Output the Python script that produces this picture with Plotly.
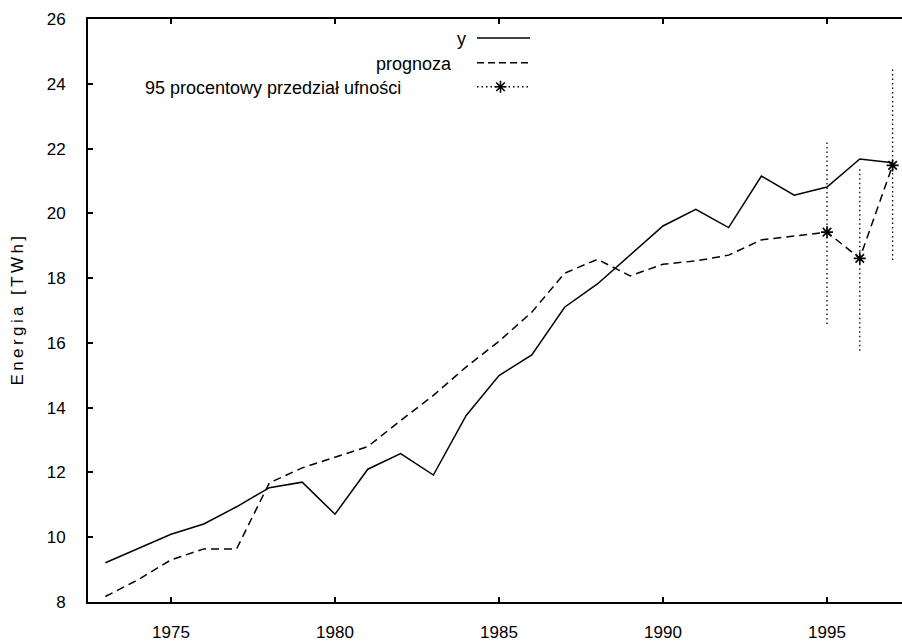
import plotly.graph_objects as go

# ---- data ----
years = list(range(1973, 1998))
y_actual = [9.21, 9.65, 10.09, 10.41, 10.94, 11.53, 11.70, 10.71, 12.10, 12.58,
            11.92, 13.76, 14.99, 15.63, 17.10, 17.82, 18.73, 19.61, 20.12, 19.56,
            21.15, 20.56, 20.81, 21.68, 21.56]
y_forecast = [8.17, 8.69, 9.30, 9.64, 9.64, 11.68, 12.14, 12.48, 12.80, 13.60,
              14.38, 15.26, 16.05, 16.95, 18.15, 18.58, 18.07, 18.43, 18.53, 18.71,
              19.18, 19.30, 19.42, 18.61, 21.48]
ci_years = [1995, 1996, 1997]
ci_center = [19.42, 18.61, 21.48]
ci_low = [16.58, 15.76, 18.56]
ci_high = [22.26, 21.44, 24.45]

x_ticks = [1975, 1980, 1985, 1990, 1995]
y_ticks = [8, 10, 12, 14, 16, 18, 20, 22, 24, 26]

legend_labels = ["y", "prognoza", "95 procentowy przedział ufności"]
y_label = "E\u2009n\u2009e\u2009r\u2009g\u2009i\u2009a\u2009 \u2009[\u2009T\u2009W\u2009h\u2009]"

FONT = "Liberation Sans, Arial, sans-serif"
FS = 17
FS_LEG = 18
W, H = 902, 642
L, R, T, B = 88, 0, 19, 38

fig = go.Figure()

fig.add_trace(go.Scatter(x=years, y=y_actual, mode="lines",
                         line=dict(color="black", width=1.5), showlegend=False))
fig.add_trace(go.Scatter(x=years, y=y_forecast, mode="lines",
                         line=dict(color="black", width=1.5, dash="8px,5px"),
                         showlegend=False))

# confidence interval bars
bx, by = [], []
for xv, lo, hi in zip(ci_years, ci_low, ci_high):
    bx += [xv, xv, None]
    by += [lo, hi, None]
fig.add_trace(go.Scatter(x=bx, y=by, mode="lines",
                         line=dict(color="black", width=1.3, dash="1.5px,3px"),
                         showlegend=False))
STAR = dict(symbol="asterisk-open", size=10, color="black",
            line=dict(color="black", width=1.6))
fig.add_trace(go.Scatter(x=ci_years, y=ci_center, mode="markers",
                         marker=STAR, showlegend=False, cliponaxis=False))

# ---- manual gnuplot-style legend on a pixel-unit overlay axis ----
leg_rows_y = [38, 63, 87]
leg_text_x = [455, 374, 143]
leg_line_x0, leg_line_x1 = 477, 530
leg_dashes = ["solid", "7px,4px", "1.5px,3px"]
for lab, ry, tx, dsh in zip(legend_labels, leg_rows_y, leg_text_x, leg_dashes):
    fig.add_trace(go.Scatter(x=[leg_line_x0, leg_line_x1], y=[ry, ry], mode="lines",
                             xaxis="x2", yaxis="y2",
                             line=dict(color="black",
                                       width=1.3 if dsh == "1.5px,3px" else 1.5,
                                       dash=dsh),
                             showlegend=False, hoverinfo="skip"))
    fig.add_annotation(x=tx, y=ry + 1, xref="x2", yref="y2", text=lab, showarrow=False,
                       xanchor="left", yanchor="middle",
                       font=dict(family=FONT, size=FS_LEG, color="black"))
fig.add_trace(go.Scatter(x=[(leg_line_x0 + leg_line_x1) / 2 - 3], y=[leg_rows_y[2]],
                         mode="markers", xaxis="x2", yaxis="y2",
                         marker=STAR, showlegend=False, hoverinfo="skip"))

x_left = 1975 - (171 - L) / 32.8
x_right = x_left + (W - L - R) / 32.8

fig.update_layout(
    width=W, height=H,
    margin=dict(l=L, r=R, t=T, b=B, pad=0),
    paper_bgcolor="white", plot_bgcolor="white",
    font=dict(family=FONT, size=FS, color="black"),
    showlegend=False,
    xaxis=dict(range=[x_left, x_right], tickvals=x_ticks, ticks="inside", ticklen=5,
               tickwidth=1.5, tickcolor="black", showline=True, linecolor="black",
               linewidth=2, mirror="ticks", showgrid=False, zeroline=False,
               ticklabelstandoff=14, tickfont=dict(family=FONT, size=FS)),
    yaxis=dict(range=[8, 26], tickvals=y_ticks, ticks="inside", ticklen=5,
               tickwidth=1.5, tickcolor="black", showline=True, linecolor="black",
               linewidth=2, mirror=False, showgrid=False, zeroline=False,
               ticklabelstandoff=17, tickfont=dict(family=FONT, size=FS)),
    xaxis2=dict(overlaying="x", range=[L, W - R], visible=False, fixedrange=True),
    yaxis2=dict(overlaying="y", range=[H - B, T], visible=False, fixedrange=True),
)

fig.add_annotation(x=(17 - L) / (W - L - R), y=0.5, xref="paper", yref="paper",
                   text=y_label, textangle=-90, showarrow=False,
                   xanchor="center", yanchor="middle",
                   font=dict(family=FONT, size=FS, color="black"))

fig.write_html("out.html")
